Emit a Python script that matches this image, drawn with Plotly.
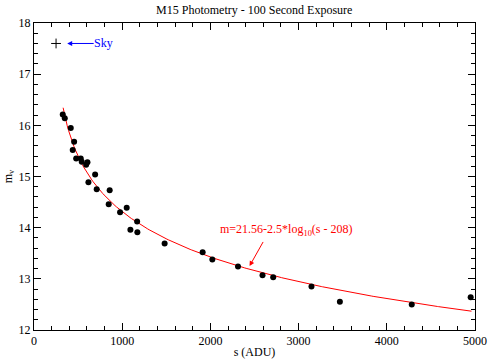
import numpy as np
import plotly.graph_objects as go

# Measured star data
s_adu = [326, 349, 417, 455, 439, 478, 530, 541, 591, 606, 693, 617, 711, 858, 847,
         976, 1051, 1169, 1093, 1172, 1481, 1912, 2022, 2313, 2591, 2712, 3146, 3468,
         4283, 4951]
m_v = [16.21, 16.14, 15.95, 15.68, 15.52, 15.35, 15.35, 15.29, 15.23, 15.28, 15.04,
       14.89, 14.75, 14.73, 14.46, 14.30, 14.39, 14.12, 13.96, 13.91, 13.69, 13.52,
       13.38, 13.24, 13.07, 13.03, 12.85, 12.55, 12.50, 12.64]

# Sky point
sky_s = [250]
sky_m = [17.6]

# Fit parameters (from the chart label)
fit_zero = 21.56
fit_slope = 2.5
fit_sky = 208
fit_s = np.linspace(330, 4960, 300)
fit_m = fit_zero - fit_slope * np.log10(fit_s - fit_sky)

FONT = "Liberation Serif, Times New Roman, serif"

fig = go.Figure()
fig.add_trace(go.Scatter(x=fit_s, y=fit_m, mode="lines",
                         line=dict(color="red", width=1), showlegend=False))
fig.add_trace(go.Scatter(x=s_adu, y=m_v, mode="markers",
                         marker=dict(color="black", size=6, symbol="circle"),
                         showlegend=False))
fig.add_trace(go.Scatter(x=sky_s, y=sky_m, mode="markers",
                         marker=dict(color="black", size=7, symbol="cross-thin",
                                     line=dict(color="black", width=1)),
                         showlegend=False))

# Sky label with arrow
fig.add_annotation(x=376, y=sky_m[0], ax=790, ay=sky_m[0], axref="x", ayref="y",
                   text="Sky", showarrow=True, arrowhead=2, arrowsize=1, arrowwidth=1,
                   arrowcolor="blue", borderpad=0,
                   font=dict(color="blue", size=12, family=FONT))

# Fit label with arrow
fig.add_annotation(x=2444, y=13.25, ax=2607, ay=13.75, axref="x", ayref="y",
                   text="", showarrow=True, arrowhead=2, arrowsize=1, arrowwidth=1,
                   arrowcolor="red")
fig.add_annotation(x=2090, y=13.95, text="m=21.56-2.5*log<sub>10</sub>(s - 208)",
                   showarrow=False, xanchor="left",
                   font=dict(color="red", size=12, family=FONT))

fig.update_layout(
    width=489, height=361,
    margin=dict(l=34, r=14, t=23, b=31),
    paper_bgcolor="white", plot_bgcolor="white",
    font=dict(family=FONT, size=12, color="black"),
    title=dict(text="M15 Photometry - 100 Second Exposure", x=0.52, xanchor="center",
               y=0.985, yanchor="top", font=dict(size=12, family=FONT),
               automargin=False),
    xaxis=dict(range=[0, 5000], dtick=1000, tick0=0, showgrid=False, zeroline=False,
               showline=True, linecolor="black", linewidth=1, mirror="ticks",
               ticks="inside", ticklen=7, tickcolor="black", automargin=False,
               minor=dict(dtick=200, ticks="inside", ticklen=4, tickcolor="black"),
               title=dict(text="s (ADU)", standoff=0, font=dict(size=12)),
               tickfont=dict(size=12)),
    yaxis=dict(range=[12, 18], dtick=1, tick0=12, showgrid=False, zeroline=False,
               showline=True, linecolor="black", linewidth=1, mirror="ticks",
               ticks="inside", ticklen=7, tickcolor="black", automargin=False,
               minor=dict(dtick=0.2, ticks="inside", ticklen=4, tickcolor="black"),
               title=dict(text="m<sub>v</sub>", standoff=3, font=dict(size=12)),
               tickfont=dict(size=12)),
)

fig.write_html("out.html", config={"displayModeBar": False},
               post_script="document.body.style.margin='0';document.body.style.overflow='hidden';")
